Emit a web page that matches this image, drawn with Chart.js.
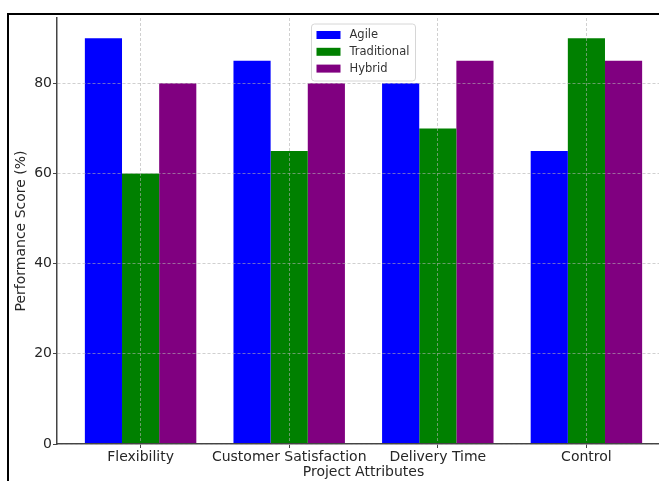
<!DOCTYPE html>
<html>
<head>
<meta charset="utf-8">
<script src="https://cdn.jsdelivr.net/npm/chart.js@4"></script>
<style>
  html, body { margin: 0; padding: 0; background: #fff; overflow: hidden; width: 659px; height: 481px; }
  #wrap { position: absolute; left: 0; top: 0; width: 680px; height: 481px; }
  #frame { position: absolute; left: 7px; top: 13px; width: 700px; height: 500px;
           border-top: 2.5px solid #000; border-left: 2.5px solid #000; pointer-events: none; }
</style>
</head>
<body>
<div id="wrap"><canvas id="c" width="680" height="481"></canvas></div>
<div id="frame"></div>
<script>
// Project attributes compared across three methodologies
const categories = ['Flexibility', 'Customer Satisfaction', 'Delivery Time', 'Control'];
const agile = [90, 85, 80, 65];
const traditional = [60, 65, 70, 90];
const hybrid = [80, 80, 85, 85];
const yTicks = [0, 20, 40, 60, 80];

const FONT = 'DejaVu Sans';
const toPoints = arr => arr.map((v, i) => ({ x: i, y: v }));

// Legend box drawn inside the plot area, upper centre
const innerLegend = {
  id: 'innerLegend',
  afterDraw(chart) {
    const { ctx, chartArea } = chart;
    const items = chart.data.datasets;
    const w = 104, h = 57;
    const x0 = (chartArea.left + chartArea.right) / 2 - w / 2;
    const y0 = chartArea.top + 6;
    ctx.save();
    ctx.beginPath();
    ctx.roundRect(x0, y0, w, h, 3);
    ctx.fillStyle = 'rgba(255,255,255,0.85)';
    ctx.fill();
    ctx.strokeStyle = '#d6d6d6';
    ctx.lineWidth = 1;
    ctx.stroke();
    ctx.font = '11.5px "' + FONT + '"';
    ctx.textBaseline = 'middle';
    items.forEach((ds, i) => {
      const cy = y0 + 11 + i * 16.8;
      ctx.fillStyle = ds.backgroundColor;
      ctx.fillRect(x0 + 5, cy - 4, 24, 8);
      ctx.fillStyle = '#333';
      ctx.fillText(ds.label, x0 + 38, cy + 0.5);
    });
    ctx.restore();
  }
};

// Dashed grid drawn over the bars; axis lines stay solid
const gridStyle = {
  z: 1,
  offset: false,
  color: 'rgba(176,176,176,0.75)',
  tickColor: '#444',
  tickBorderDash: [],
  tickLength: 4,
  tickWidth: 1,
  lineWidth: 0.8
};
const borderStyle = { display: true, color: '#444', width: 1.5, dash: [3, 2], z: 1 };

new Chart(document.getElementById('c'), {
  type: 'bar',
  data: {
    datasets: [
      { label: 'Agile', data: toPoints(agile), backgroundColor: '#0000ff' },
      { label: 'Traditional', data: toPoints(traditional), backgroundColor: '#008000' },
      { label: 'Hybrid', data: toPoints(hybrid), backgroundColor: '#800080' }
    ]
  },
  options: {
    responsive: false,
    animation: false,
    devicePixelRatio: 1,
    layout: { padding: { top: 18, left: 0, right: 10, bottom: 0 } },
    datasets: { bar: { categoryPercentage: 0.75, barPercentage: 1.0 } },
    plugins: { legend: { display: false }, tooltip: { enabled: false } },
    scales: {
      x: {
        type: 'linear',
        offset: false,
        min: -0.5625,
        max: 3.5625,
        afterBuildTicks: s => { s.ticks = categories.map((_, i) => ({ value: i })); },
        afterFit: s => { s.height = 37; },
        ticks: {
          callback: v => categories[v],
          font: { family: FONT, size: 14 },
          color: '#262626',
          padding: 1,
          maxRotation: 0,
          autoSkip: false
        },
        grid: gridStyle,
        border: borderStyle,
        title: {
          display: true,
          text: 'Project Attributes',
          font: { family: FONT, size: 14 },
          color: '#262626',
          padding: { top: 0, bottom: 0 }
        }
      },
      y: {
        min: 0,
        max: 94.5,
        afterBuildTicks: s => { s.ticks = yTicks.map(v => ({ value: v })); },
        afterFit: s => { s.width = 57; },
        ticks: {
          font: { family: FONT, size: 14 },
          color: '#262626',
          padding: 1
        },
        grid: gridStyle,
        border: borderStyle,
        title: {
          display: true,
          text: 'Performance Score (%)',
          font: { family: FONT, size: 14 },
          color: '#262626',
          padding: { top: 13, bottom: 0 }
        }
      }
    }
  },
  plugins: [innerLegend]
});
</script>
</body>
</html>
